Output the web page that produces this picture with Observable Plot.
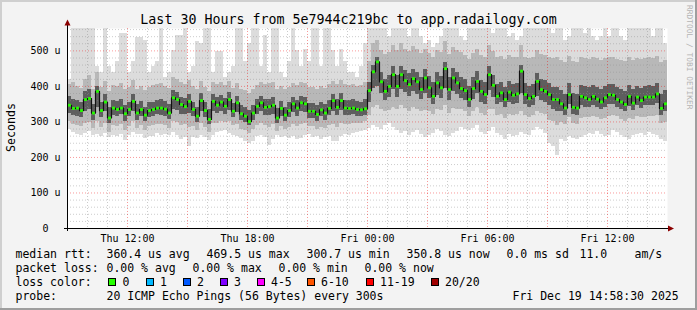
<!DOCTYPE html>
<html><head><meta charset="utf-8">
<script src="https://cdn.jsdelivr.net/npm/d3@7"></script>
<script src="https://cdn.jsdelivr.net/npm/@observablehq/plot@0.6"></script>
<style>
html,body{margin:0;padding:0;background:#f3f3f3;}
#wrap{width:697px;height:310px;overflow:hidden;}
svg{display:block;}
</style></head><body><div id="wrap"></div>
<script>
// ---- data (microseconds), one value per 12-minute slot, Thu 09:00 -> Fri 15:00 ----
const median = [347,338,339,332,363,366,325,386,332,356,
311,339,335,339,323,335,358,325,335,319,
332,335,339,339,336,325,368,363,349,343,
358,335,316,360,332,307,358,347,356,344,
363,330,354,323,316,301,325,344,354,341,
343,347,311,338,319,332,351,339,354,351,
330,330,321,334,325,338,360,341,360,339,
338,339,335,334,337,388,441,469,413,386,
400,433,400,433,416,405,422,413,391,424,
396,372,410,396,450,391,424,410,394,388,
363,394,414,386,377,433,403,372,382,363,
384,375,379,443,377,366,372,414,391,386,
377,363,363,351,339,377,341,339,372,368,
363,372,364,356,368,377,375,363,356,349,
372,353,370,360,370,370,370,379,338,351];
const pingMin = [280,270,265,262,268,272,262,265,260,268,
255,262,258,265,248,262,270,264,266,252,
258,260,268,262,266,262,270,262,250,256,
230,255,252,262,256,248,262,270,272,276,
268,262,258,252,245,240,244,258,262,255,
235,250,262,256,260,254,258,250,252,262,
265,256,258,250,255,260,244,246,258,266,
262,268,270,272,275,282,290,285,280,290,
295,285,275,268,272,262,270,275,266,255,
262,268,280,272,262,258,268,272,285,280,
275,282,290,270,265,272,285,268,262,250,
264,258,262,270,265,262,275,285,278,268,
240,232,205,250,245,258,252,250,255,262,
268,265,272,266,258,262,275,270,262,255,
250,262,265,268,262,270,265,262,250,245];
const pingMax = [420,563,563,563,563,563,563,455,440,563,
455,440,470,550,550,440,470,537,537,530,
440,455,470,563,425,440,500,543,543,563,
440,455,525,520,563,563,440,497,497,425,
440,455,563,563,470,520,563,563,455,543,
440,563,563,440,425,470,563,500,455,505,
470,563,563,455,563,563,500,455,505,470,
440,440,425,455,520,563,563,563,563,563,
540,563,563,563,563,540,563,563,540,520,
530,510,520,540,563,563,563,563,540,530,
563,563,563,563,563,563,550,563,563,563,
540,550,530,540,563,563,563,563,563,563,
563,550,563,563,530,540,563,563,563,550,
563,540,530,540,563,540,563,563,540,530,
563,563,563,563,563,563,540,563,563,520];
const p10 = [300,292,290,288,295,298,282,300,285,295,
270,290,288,292,275,288,300,282,290,275,
288,290,294,292,290,282,300,298,290,292,
285,286,275,295,285,270,295,296,300,298,
300,290,292,280,275,268,278,290,295,290,
285,292,272,288,278,285,292,286,294,295,
288,286,280,285,282,290,292,285,295,292,
294,296,295,296,300,318,340,345,335,330,
332,340,335,345,338,330,340,335,328,332,
330,320,335,332,345,325,338,334,335,330,
315,330,340,325,318,335,335,318,320,310,
322,318,320,330,318,312,318,330,325,322,
305,300,290,298,292,312,295,294,310,312,
312,315,312,308,310,316,318,314,308,302,
310,306,314,312,312,315,314,318,295,298];
const p90 = [405,410,400,395,420,430,390,440,398,415,
385,402,400,408,392,398,418,392,400,388,
398,402,405,408,400,395,425,420,410,405,
418,400,390,415,398,385,412,405,410,402,
415,395,408,392,388,380,390,402,410,405,
408,410,392,400,390,398,408,402,410,408,
398,396,392,400,395,404,415,405,418,405,
402,404,400,402,410,470,520,530,500,490,
495,515,500,520,505,498,512,505,492,505,
494,480,500,495,525,490,510,502,495,488,
475,492,505,488,482,515,498,480,485,475,
486,480,482,515,482,478,480,500,490,488,
482,478,480,472,468,484,470,468,480,478,
476,480,478,474,478,482,480,476,474,470,
480,472,478,475,478,480,478,484,466,472];
const q1 = [325,318,316,312,330,335,305,340,312,328,
296,318,316,320,302,315,330,305,315,300,
312,316,320,318,316,306,335,332,322,320,
325,314,298,330,312,292,328,325,330,322,
333,312,326,304,298,290,305,320,328,318,
318,322,295,316,300,312,326,316,328,326,
310,310,302,314,305,318,330,318,332,318,
318,320,316,315,318,355,395,400,380,360,
368,390,370,392,382,372,385,378,362,380,
366,350,375,366,395,360,385,376,365,360,
340,362,380,356,350,388,370,348,355,340,
356,350,352,380,350,342,346,372,360,356,
346,336,330,328,318,348,320,318,345,342,
340,346,340,334,342,350,348,340,334,328,
344,332,345,338,345,346,345,352,318,328];
const q3 = [372,362,360,356,385,390,350,400,355,376,
340,360,358,362,345,355,378,348,357,342,
354,356,360,362,358,350,388,384,370,365,
378,356,340,380,354,335,378,368,374,365,
382,352,372,346,340,332,345,364,372,362,
364,368,338,358,342,354,370,360,372,370,
352,352,345,356,348,360,378,362,380,360,
360,362,358,356,362,410,460,480,440,420,
430,455,432,456,445,435,448,440,425,448,
428,410,438,428,468,425,450,440,425,420,
400,425,442,418,410,455,432,405,412,398,
414,406,408,460,408,400,404,436,420,416,
408,398,396,388,378,408,380,378,402,400,
396,402,398,392,400,406,405,398,392,386,
402,390,400,395,400,402,400,408,376,388];

const yLabelTicks = [0,100,200,300,400,500];
const xLabelTicks = ["2025-12-18T12:00Z","2025-12-18T18:00Z","2025-12-19T00:00Z","2025-12-19T06:00Z","2025-12-19T12:00Z"];
const titleText = "Last 30 Hours from 5e7944c219bc to app.radailogy.com";
const unitText = "Seconds";
const watermark = "RRDTOOL / TOBI OETIKER";
const legendRtt = ["median rtt:","360.4 us avg","469.5 us max","300.7 us min","350.8 us now","0.0 ms sd","11.0","am/s"];
const legendLoss = ["packet loss:","0.00 % avg","0.00 % max","0.00 % min","0.00 % now"];
const lossLabels = ["0","1","2","3","4-5","6-10","11-19","20/20"];
const lossColors = ["#26ff00","#00b8ff","#0059ff","#7e00ff","#ff00ff","#ff5500","#ff0000","#a00000"];
const probeText = ["probe:","20 ICMP Echo Pings (56 Bytes) every 300s","Fri Dec 19 14:58:30 2025"];

// ---- build rows ----
const start = new Date(Date.UTC(2025,11,18,9,0));
const end = new Date(Date.UTC(2025,11,19,15,0));
const stepMs = (end - start) / median.length;
const rows = median.map((m,i)=>({
  t1:new Date(+start + i*stepMs), t2:new Date(+start + (i+1)*stepMs), tm:new Date(+start + (i+0.5)*stepMs),
  med:m, lo:pingMin[i], hi:pingMax[i], p10:p10[i], p90:p90[i], q1:q1[i], q3:q3[i]
}));
const hours = d3.utcHours(d3.utcHour.offset(start,1), end);
const hourMinor = hours.filter(d=>d.getUTCHours()%3!==0);
const hourMajor = hours.filter(d=>d.getUTCHours()%3===0);
const yMinor = d3.range(20, 563, 20).filter(d=>d%100!==0);
const yMajor = [100,200,300,400,500];
const fmtX = d3.utcFormat("%a %H:%M");
const mono = "DejaVu Sans Mono";

const chart = Plot.plot({
  width: 697, height: 310,
  marginLeft: 67, marginRight: 30, marginTop: 28, marginBottom: 82,
  style: {background:"#f3f3f3", fontFamily: mono, fontSize:"10px", overflow:"visible"},
  x: {type:"utc", domain:[start,end], axis:null},
  y: {domain:[0,563], axis:null},
  marks: [
    Plot.frame({fill:"white", stroke:"none"}),
    Plot.rect(rows, {x1:"t1", x2:"t2", y1:"lo", y2:"hi", fill:"#dcdcdc", shapeRendering:"crispEdges"}),
    Plot.rect(rows, {x1:"t1", x2:"t2", y1:"p10", y2:"p90", fill:"#b8b8b8", shapeRendering:"crispEdges"}),
    Plot.rect(rows, {x1:"t1", x2:"t2", y1:"q1", y2:"q3", fill:"#5e5e5e", shapeRendering:"crispEdges"}),
    Plot.ruleY(yMinor, {stroke:"#8f8f8f", strokeOpacity:0.45, strokeDasharray:"1,2"}),
    Plot.ruleX(hourMinor, {stroke:"#8f8f8f", strokeOpacity:0.45, strokeDasharray:"1,2"}),
    Plot.ruleY(yMajor, {stroke:"#f00000", strokeOpacity:0.4, strokeDasharray:"1,2"}),
    Plot.ruleX(hourMajor, {stroke:"#f00000", strokeOpacity:0.4, strokeDasharray:"1,2"}),
    Plot.line(rows, {x:"tm", y:"med", curve:"step", stroke:"#111111", strokeWidth:1.2}),
    Plot.dot(rows, {x:"tm", y:"med", symbol:"square", r:1.6, fill:"#26ff00", stroke:"none"}),
    Plot.text(xLabelTicks.map(d=>new Date(d)), {x:d=>d, frameAnchor:"bottom", lineAnchor:"bottom", dy:13, text:d=>fmtX(d), fontSize:10, fontFamily:mono, fill:"black"}),
    Plot.text(yLabelTicks, {y:d=>d, frameAnchor:"left", textAnchor:"end", dx:-7, text:d=>d===0?"0\u00a0\u00a0":`${d} u`, fontSize:10, fontFamily:mono, fill:"black"})
  ]
});

const svg = d3.select(chart);
const xs = chart.scale("x"), ys = chart.scale("y");
const X0 = xs.apply(start), X1 = xs.apply(end), Y0 = ys.apply(0), YT = ys.apply(563);
const ax = svg.append("g");
ax.append("line").attr("x1",X0-3).attr("x2",X1+2).attr("y1",Y0+0.5).attr("y2",Y0+0.5).attr("stroke","black");
ax.append("line").attr("x1",X0+0.5).attr("x2",X0+0.5).attr("y1",Y0+3).attr("y2",YT-3).attr("stroke","black");
ax.append("path").attr("d",`M${X1+1},${Y0-2.5}L${X1+7},${Y0+0.5}L${X1+1},${Y0+3.5}Z`).attr("fill","#8b0000");
ax.append("path").attr("d",`M${X0-2.5},${YT-2.5}L${X0+0.5},${YT-8.5}L${X0+3.5},${YT-2.5}Z`).attr("fill","#8b0000");

const tx = svg.append("g").attr("font-family", mono).attr("fill","black").attr("text-anchor","start");
tx.append("text").attr("x",348.5).attr("y",24).attr("text-anchor","middle").attr("font-size","13.3px").text(titleText);
tx.append("text").attr("transform","translate(15,127.5) rotate(-90)").attr("text-anchor","middle").attr("font-size","11.6px").text(unitText);
tx.append("text").attr("transform","translate(686.5,5) rotate(90)").attr("text-anchor","start").attr("font-size","7.9px").attr("fill","#b4b4b4").text(watermark);

const lfs = "11.5px";
const rttX = [15.5,106.5,206.5,306.5,406.5,506.5,579.5,634.5];
legendRtt.forEach((s,i)=>tx.append("text").attr("x",rttX[i]).attr("y",258).attr("font-size",lfs).text(s));
const lossX = [15.5,106.5,192.5,278.5,364.5];
legendLoss.forEach((s,i)=>tx.append("text").attr("x",lossX[i]).attr("y",272).attr("font-size",lfs).text(s));
tx.append("text").attr("x",15.5).attr("y",286).attr("font-size",lfs).text("loss color:");
const boxX = [108,145.5,182.5,219.5,256.5,306.5,365.5,430.5];
lossLabels.forEach((s,i)=>{
  tx.append("rect").attr("x",Math.round(boxX[i])+0.5).attr("y",278.5).attr("width",7).attr("height",7).attr("fill",lossColors[i]).attr("stroke","black");
  tx.append("text").attr("x",boxX[i]+14.5).attr("y",286).attr("font-size",lfs).text(s);
});
const probeX = [15.5,106.5,512.5];
probeText.forEach((s,i)=>tx.append("text").attr("x",probeX[i]).attr("y",299.5).attr("font-size",lfs).text(s));

// frame shading
const W = 697, H = 310;
const fr = svg.append("g");
fr.append("rect").attr("x",0).attr("y",0).attr("width",W).attr("height",2).attr("fill","#cfcfcf");
fr.append("rect").attr("x",0).attr("y",0).attr("width",2).attr("height",H).attr("fill","#cfcfcf");
fr.append("rect").attr("x",0).attr("y",H-2).attr("width",W).attr("height",2).attr("fill","#9e9e9e");
fr.append("rect").attr("x",W-2).attr("y",0).attr("width",2).attr("height",H).attr("fill","#9e9e9e");

document.getElementById("wrap").appendChild(chart);
</script></body></html>
